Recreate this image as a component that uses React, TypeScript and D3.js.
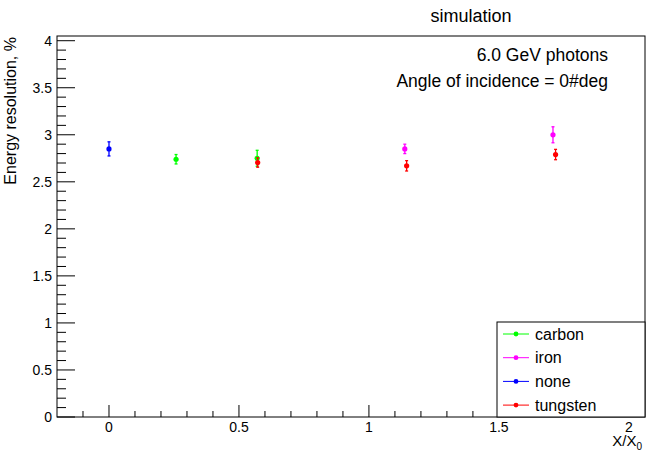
import React from 'react';
import * as d3 from 'd3';

const W = 646;
const H = 451;

// series: x = X/X0, y = energy resolution in %, e = error
const carbon = [
  { x: 0.258, y: 2.74, e: 0.05 },
  { x: 0.57, y: 2.75, e: 0.085 },
];
const iron = [
  { x: 1.138, y: 2.85, e: 0.05 },
  { x: 1.708, y: 3.0, e: 0.085 },
];
const none = [{ x: 0, y: 2.85, e: 0.075 }];
const tungsten = [
  { x: 0.572, y: 2.705, e: 0.05 },
  { x: 1.145, y: 2.67, e: 0.055 },
  { x: 1.718, y: 2.79, e: 0.055 },
];

const seriesNames = ['carbon', 'iron', 'none', 'tungsten'];
const seriesColors = ['#00ff00', '#ff00ff', '#0000ff', '#ff0000'];
const seriesData = [carbon, iron, none, tungsten];

const xMajor = [0, 0.5, 1, 1.5, 2];
const yMajor = [0, 0.5, 1, 1.5, 2, 2.5, 3, 3.5, 4];

const font = '"Liberation Sans", Arial, Helvetica, sans-serif';

const App = () => {
  const margin = { left: 57, right: 1, top: 36, bottom: 34 };
  const x = d3.scaleLinear().domain([-0.2, 2.062]).range([margin.left, W - margin.right]);
  const y = d3.scaleLinear().domain([0, 4.05]).range([H - margin.bottom, margin.top]);

  const x0 = x.range()[0];
  const x1 = x.range()[1];
  const y0 = y.range()[0];
  const y1 = y.range()[1];

  // minor ticks every 0.1, only inside the frame
  const xMinor = d3.range(-1, 21).map(i => i / 10).filter(v => !xMajor.includes(v));
  const yMinor = d3.range(0, 41).map(i => i / 10).filter(v => !yMajor.includes(v));

  const legend = { x: 497, y: 322, w: 148, row: 23.7 };

  return (
    <svg width={W} height={H} style={{ position: 'absolute', left: 0, top: 0, background: '#fff' }} fontFamily={font}>
      <rect width={W} height={H} fill="#fff" />

      {/* frame */}
      <rect x={x0} y={y1} width={x1 - x0} height={y0 - y1} fill="none" stroke="#000" strokeWidth={1} />

      {/* y axis ticks */}
      {yMajor.map(v => (
        <line key={'ym' + v} x1={x0} x2={x0 + 18} y1={y(v)} y2={y(v)} stroke="#000" />
      ))}
      {yMinor.map(v => (
        <line key={'yn' + v} x1={x0} x2={x0 + 9} y1={y(v)} y2={y(v)} stroke="#000" />
      ))}
      {yMajor.map(v => (
        <text key={'yl' + v} x={x0 - 5} y={y(v) + 5} fontSize={14} textAnchor="end" fill="#000">
          {String(v)}
        </text>
      ))}

      {/* x axis ticks */}
      {xMajor.map(v => (
        <line key={'xm' + v} x1={x(v)} x2={x(v)} y1={y0} y2={y0 - 12} stroke="#000" />
      ))}
      {xMinor.map(v => (
        <line key={'xn' + v} x1={x(v)} x2={x(v)} y1={y0} y2={y0 - 6} stroke="#000" />
      ))}
      {xMajor.map(v => (
        <text key={'xl' + v} x={x(v)} y={y0 + 15} fontSize={14} textAnchor="middle" fill="#000">
          {String(v)}
        </text>
      ))}

      {/* axis titles */}
      <text x={642} y={446} fontSize={15} textAnchor="end" fill="#000">
        X/X<tspan fontSize={10} dy={3.5}>0</tspan>
      </text>
      <text transform={`translate(16,${y1 + 1}) rotate(-90)`} fontSize={16} textAnchor="end" fill="#000">
        Energy resolution, %
      </text>

      {/* title and labels */}
      <text x={471} y={22} fontSize={18} textAnchor="middle" fill="#000">simulation</text>
      <text x={608} y={61} fontSize={17.5} textAnchor="end" fill="#000">6.0 GeV photons</text>
      <text x={608} y={87} fontSize={17.5} textAnchor="end" fill="#000">Angle of incidence = 0#deg</text>

      {/* points with error bars */}
      {seriesData.map((data, si) => (
        <g key={seriesNames[si]}>
          {data.map((d, i) => (
            <g key={i}>
              <line x1={x(d.x)} x2={x(d.x)} y1={y(d.y - d.e)} y2={y(d.y + d.e)} stroke={seriesColors[si]} strokeWidth={1.3} />
              <line x1={x(d.x) - 1.5} x2={x(d.x) + 1.5} y1={y(d.y - d.e)} y2={y(d.y - d.e)} stroke={seriesColors[si]} strokeWidth={1.3} />
              <line x1={x(d.x) - 1.5} x2={x(d.x) + 1.5} y1={y(d.y + d.e)} y2={y(d.y + d.e)} stroke={seriesColors[si]} strokeWidth={1.3} />
              <circle cx={x(d.x)} cy={y(d.y)} r={2.6} fill={seriesColors[si]} />
            </g>
          ))}
        </g>
      ))}

      {/* legend */}
      <rect x={legend.x} y={legend.y} width={legend.w} height={y0 - legend.y} fill="#fff" stroke="#000" strokeWidth={1} />
      {seriesNames.map((name, i) => {
        const cy = legend.y + 12 + i * legend.row;
        return (
          <g key={'lg' + name}>
            <line x1={503} x2={529} y1={cy} y2={cy} stroke={seriesColors[i]} strokeWidth={1} />
            <circle cx={516} cy={cy} r={2.4} fill={seriesColors[i]} />
            <text x={535} y={cy + 5.5} fontSize={16} fill="#000">{name}</text>
          </g>
        );
      })}
    </svg>
  );
};

export default App;
